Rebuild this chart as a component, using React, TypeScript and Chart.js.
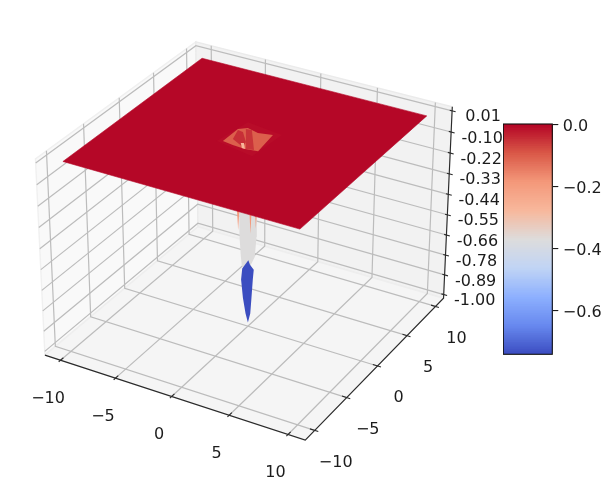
import React, { useEffect, useRef } from "react";
import { Chart, registerables } from "chart.js";

Chart.register(...registerables);

type P3 = [number, number, number];

// ---- axis contents
const xTicks = [-10, -5, 0, 5, 10];
const xTickLabels = ["\u221210", "\u22125", "0", "5", "10"];
const yTicks = [-10, -5, 0, 5, 10];
const yTickLabels = ["\u221210", "\u22125", "0", "5", "10"];
const zTickLabels = ["0.01", "-0.10", "-0.22", "-0.33", "-0.44", "-0.55", "-0.66", "-0.78", "-0.89", "-1.00"];
const zTicks = [0.01, -0.1022, -0.2144, -0.3267, -0.4389, -0.5511, -0.6633, -0.7756, -0.8878, -1.0];
const colorbarTicks = [0, -0.2, -0.4, -0.6];
const XY_LIM = 11.44;
const Z_MIN = -1.021;
const Z_MAX = 0.031;
const CB_MIN = -0.741;
const CB_MAX = 0.003;

// ---- surface, as facets [x, y, z]; each with the value that picks its colour
const plateau: P3[] = [[-10, -10, 0], [10, -10, 0], [10, 10, 0], [-10, 10, 0]];
const plateauValue = 0;
const craterRing: P3[] = [[-1.8, -1.54, 0], [-1.31, 2.27, 0], [1.95, 1.73, 0], [1.69, -2.31, 0]];
const craterRingValue = -0.006;
const craterHole: P3[] = [[-1.41, -1.31, 0], [-1.4, 0.92, 0], [-0.83, 1.43, 0], [0.23, 1.11, 0], [1.37, 1.4, 0], [1.68, -1.39, 0], [0.67, -1.6, 0], [-0.44, -1.5, 0]];
const craterHoleValue = -0.1;
const craterStripA: P3[] = [[-1.32, 0.78, 0], [-0.92, -0.66, 0], [0.37, -1.4, 0], [0.17, -0.59, 0], [-0.83, 0.69, 0]];
const craterStripAValue = -0.045;
const craterStripB: P3[] = [[-0.88, 1.22, 0], [-0.41, 1.31, 0], [1.33, -1.4, 0], [0.73, -1.56, 0]];
const craterStripBValue = -0.05;
const craterLight: P3[] = [[-0.08, -0.92, 0], [0.12, -0.8, 0], [0.67, -1.6, 0], [0.39, -1.58, 0]];
const craterLightValue = -0.27;

const spikeGrey: P3[] = [[-0.58, -0.33, -0.37], [-0.56, -0.32, -0.525], [-0.47, -0.27, -0.634], [-0.4, -0.23, -0.689], [0.14, 0.08, -0.689], [0.46, 0.27, -0.634], [0.57, 0.33, -0.525], [0.59, 0.34, -0.37]];
const spikeGreyValue = -0.37;
const spikeBlue: P3[] = [[0.03, 0.015, -0.652], [-0.38, -0.22, -0.698], [-0.46, -0.26, -0.759], [-0.34, -0.19, -0.861], [-0.16, -0.09, -0.949], [0, 0, -1], [0.16, 0.09, -0.949], [0.24, 0.14, -0.861], [0.33, 0.19, -0.759], [0.39, 0.23, -0.705], [0.14, 0.08, -0.678]];
const spikeBlueValue = -0.74;
const spikeOrangeA: P3[] = [[-0.73, -0.42, -0.37], [-0.56, -0.32, -0.37], [-0.65, -0.37, -0.487]];
const spikeOrangeB: P3[] = [[0.09, 0.05, -0.37], [0.25, 0.14, -0.37], [0.17, 0.1, -0.509]];
const spikeOrangeC: P3[] = [[0.46, 0.27, -0.37], [0.61, 0.35, -0.37], [0.53, 0.3, -0.482]];
const spikeOrangeValue = -0.19;

// ---- coolwarm colormap stops
const coolwarm: number[][] = [
  [59, 76, 192], [103, 136, 238], [141, 176, 254], [192, 212, 245], [221, 220, 220],
  [247, 184, 156], [244, 152, 122], [217, 88, 71], [180, 4, 38],
];

function colorAt(v: number): string {
  const t = Math.min(1, Math.max(0, (v - CB_MIN) / (CB_MAX - CB_MIN))) * (coolwarm.length - 1);
  const i = Math.min(coolwarm.length - 2, Math.floor(t));
  const f = t - i;
  const c = coolwarm[i].map((a, k) => Math.round(a + (coolwarm[i + 1][k] - a) * f));
  return `rgb(${c[0]},${c[1]},${c[2]})`;
}

// ---- matplotlib's mplot3d camera (elev 30, azim -60, dist 10, box 4:4:3)
const BOX = [1.1905, 1.1905, 0.8929];
const U = [0.866, 0.5, 0];
const V = [-0.25, 0.433, 0.866];
const W = [0.433, -0.75, 0.5];
const DIST = 10;
const VIEW_SCALE = 2505;
const VIEW_X = 247.9;
const VIEW_Y = 231.4;

function project([x, y, z]: P3) {
  const p = [
    (x / XY_LIM / 2) * BOX[0],
    (y / XY_LIM / 2) * BOX[1],
    ((z - Z_MIN) / (Z_MAX - Z_MIN) - 0.5) * BOX[2],
  ];
  const dot = (a: number[]) => a[0] * p[0] + a[1] * p[1] + a[2] * p[2];
  const depth = DIST - dot(W);
  return { x: VIEW_X + (VIEW_SCALE * dot(U)) / depth, y: VIEW_Y - (VIEW_SCALE * dot(V)) / depth };
}

const L = XY_LIM;
const lineSet = (pts: P3[], color: string, width: number) => ({
  data: pts.map(project),
  showLine: true,
  pointRadius: 0,
  borderColor: color,
  borderWidth: width,
  fill: false,
  tension: 0,
});
const polySet = (pts: P3[], color: string, edge = "transparent", edgeWidth = 1) => ({
  data: [...pts, pts[0]].map(project),
  showLine: true,
  pointRadius: 0,
  borderColor: edge,
  borderWidth: edgeWidth,
  backgroundColor: color,
  fill: "shape" as const,
  tension: 0,
});

function buildDatasets() {
  const GRID = "#bcbcbc";
  const GW = 1.2;
  const AX = "#2a2a2a";
  const sets: any[] = [];
  // panes
  sets.push(polySet([[-L, -L, Z_MIN], [-L, L, Z_MIN], [-L, L, Z_MAX], [-L, -L, Z_MAX]], "#f9f9f9", "#f0f0f0", 1.4));
  sets.push(polySet([[-L, L, Z_MIN], [L, L, Z_MIN], [L, L, Z_MAX], [-L, L, Z_MAX]], "#f2f2f2", "#ebebeb", 1.4));
  sets.push(polySet([[-L, -L, Z_MIN], [L, -L, Z_MIN], [L, L, Z_MIN], [-L, L, Z_MIN]], "#f5f5f5", "#eeeeee", 1.4));
  // grid
  xTicks.forEach((x) => sets.push(lineSet([[x, -L, Z_MIN], [x, L, Z_MIN], [x, L, Z_MAX]], GRID, GW)));
  yTicks.forEach((y) => sets.push(lineSet([[L, y, Z_MIN], [-L, y, Z_MIN], [-L, y, Z_MAX]], GRID, GW)));
  zTicks.forEach((z) => sets.push(lineSet([[-L, -L, z], [-L, L, z], [L, L, z]], GRID, GW)));
  // axis lines
  sets.push(lineSet([[-L, -L, Z_MIN], [L, -L, Z_MIN], [L, L, Z_MIN], [L, L, Z_MAX]], AX, 1.15));
  // ticks
  xTicks.forEach((x) => sets.push(lineSet([[x, -L - 0.25, Z_MIN], [x, -L + 0.4, Z_MIN]], AX, 1.1)));
  yTicks.forEach((y) => sets.push(lineSet([[L - 0.4, y, Z_MIN], [L + 0.3, y, Z_MIN]], AX, 1.1)));
  zTicks.forEach((z) => sets.push(lineSet([[L - 0.2, L, z], [L + 0.3, L, z]], AX, 1.1)));
  // spike beneath, then the sheet, then the crater
  sets.push(polySet(spikeGrey, colorAt(spikeGreyValue)));
  sets.push(polySet(spikeBlue, colorAt(spikeBlueValue)));
  [spikeOrangeA, spikeOrangeB, spikeOrangeC].forEach((o) => sets.push(polySet(o, colorAt(spikeOrangeValue))));
  sets.push(polySet(plateau, colorAt(plateauValue), colorAt(plateauValue), 0.6));
  sets.push(polySet(craterRing, colorAt(craterRingValue)));
  sets.push(polySet(craterHole, colorAt(craterHoleValue)));
  sets.push(polySet(craterStripA, colorAt(craterStripAValue)));
  sets.push(polySet(craterStripB, colorAt(craterStripBValue)));
  sets.push(polySet(craterLight, colorAt(craterLightValue)));
  return sets.reverse(); // Chart.js paints the first dataset last
}

const FONT = '16px "DejaVu Sans"';
const TEXT = "#1c1c1c";

const axisLabels = {
  id: "axisLabels",
  afterDraw(chart: any) {
    const { ctx, scales } = chart;
    ctx.save();
    ctx.font = FONT;
    ctx.fillStyle = TEXT;
    ctx.textAlign = "center";
    ctx.textBaseline = "middle";
    const put = (p3: P3, dx: number, dy: number, s: string) => {
      const p = project(p3);
      ctx.fillText(s, scales.x.getPixelForValue(p.x) + dx, scales.y.getPixelForValue(p.y) + dy);
    };
    xTicks.forEach((x, i) => put([x, -L, Z_MIN], -12.5, 38.5, xTickLabels[i]));
    yTicks.forEach((y, i) => put([L, y, Z_MIN], 21, 32, yTickLabels[i]));
    zTicks.forEach((z, i) => put([L, L, z], 31, 6.5, zTickLabels[i]));
    ctx.restore();
  },
};

const colorbarFrame = {
  id: "colorbarFrame",
  afterDraw(chart: any) {
    const { ctx, chartArea: a } = chart;
    ctx.save();
    ctx.strokeStyle = "#111";
    ctx.lineWidth = 1.1;
    ctx.strokeRect(a.left, a.top, a.right - a.left, a.bottom - a.top);
    ctx.restore();
  },
};

export default function App() {
  const mainRef = useRef<HTMLCanvasElement>(null);
  const barRef = useRef<HTMLCanvasElement>(null);

  useEffect(() => {
    const main = new Chart(mainRef.current!, {
      type: "scatter",
      data: { datasets: buildDatasets() },
      options: {
        animation: false,
        responsive: false,
        devicePixelRatio: 1,
        layout: { padding: 0 },
        plugins: { legend: { display: false }, title: { display: false }, tooltip: { enabled: false } },
        scales: {
          x: { type: "linear", min: 0, max: 607, display: false },
          y: { type: "linear", min: 0, max: 486, reverse: true, display: false },
        },
      },
      plugins: [axisLabels],
    } as any);

    const steps = 128;
    const stepValues = Array.from({ length: steps }, (_, i) => CB_MIN + ((CB_MAX - CB_MIN) * i) / steps);
    const bar = new Chart(barRef.current!, {
      type: "bar",
      data: {
        labels: [""],
        datasets: stepValues
          .map((v) => ({
            data: [[v, CB_MAX]],
            backgroundColor: colorAt(v + (CB_MAX - CB_MIN) / steps / 2),
            borderWidth: 0,
            barPercentage: 1,
            categoryPercentage: 1,
            grouped: false,
          }))
          .reverse(),
      },
      options: {
        animation: false,
        responsive: false,
        devicePixelRatio: 1,
        layout: { padding: { left: 0.3, top: 10, bottom: 19.7, right: 0 } },
        plugins: { legend: { display: false }, title: { display: false }, tooltip: { enabled: false } },
        scales: {
          x: { display: false, grid: { display: false } },
          y: {
            position: "right",
            min: CB_MIN,
            max: CB_MAX,
            afterFit: (s: any) => {
              s.width = 54.7;
              s.paddingTop = 0;
              s.paddingBottom = 0;
            },
            afterBuildTicks: (s: any) => {
              s.ticks = colorbarTicks.map((value) => ({ value }));
            },
            border: { display: false },
            grid: { drawOnChartArea: false, drawTicks: true, tickLength: 6, tickColor: "#1c1c1c", lineWidth: 1.1 },
            ticks: {
              padding: 4.5,
              labelOffset: 2,
              color: TEXT,
              font: { family: "DejaVu Sans", size: 16 },
              callback: (v: any) => (Number(v) === 0 ? "0.0" : "\u2212" + Math.abs(Number(v)).toFixed(1)),
            },
          },
        },
      },
      plugins: [colorbarFrame],
    } as any);

    return () => {
      main.destroy();
      bar.destroy();
    };
  }, []);

  const soft = "blur(0.45px)";
  return (
    <div>
      <canvas
        ref={mainRef}
        width={607}
        height={486}
        style={{ position: "fixed", left: 0, top: 0, width: 607, height: 486, display: "block", filter: soft }}
      />
      <canvas
        ref={barRef}
        width={104}
        height={260}
        style={{ position: "fixed", left: 503, top: 114, width: 104, height: 260, display: "block", filter: soft }}
      />
    </div>
  );
}
